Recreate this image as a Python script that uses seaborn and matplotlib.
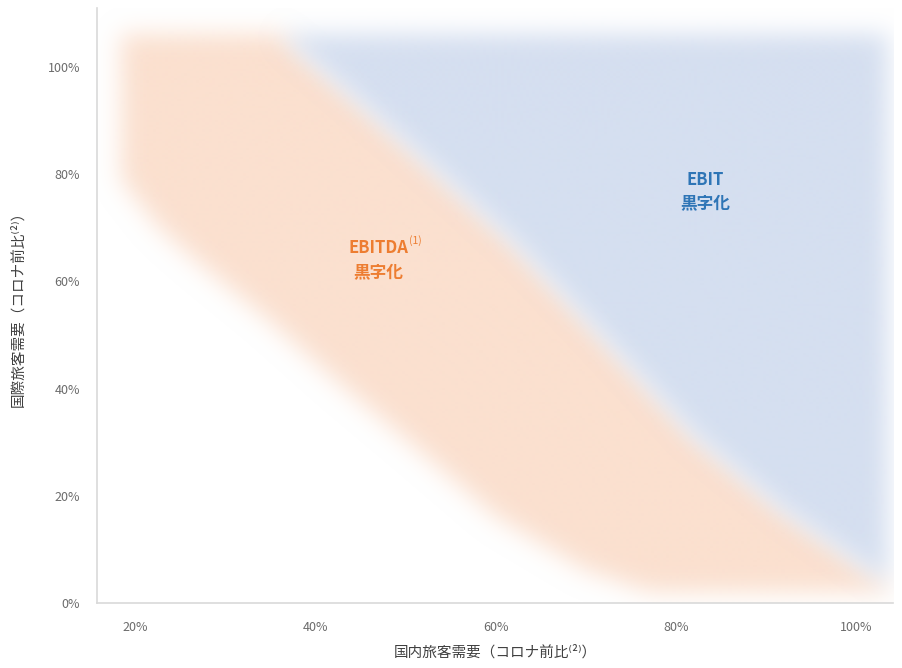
import numpy as np
import matplotlib
matplotlib.use("Agg")
import matplotlib.pyplot as plt
import seaborn as sns
from matplotlib.path import Path
from matplotlib.colors import to_rgb

# =========================== DATA ===========================
# lower-left edge of the EBITDA-positive band (domestic %, international %)
ebitda_edge_x = [18.3, 18.3, 22.5, 26.5, 34.5, 42.5, 51.0, 60.0, 70.0, 77.0]
ebitda_edge_y = [106.0, 79.0, 70.0, 64.0, 53.0, 41.0, 29.0, 16.0, 6.0, 2.0]

# edge between EBITDA band and EBIT-positive region
ebit_edge_x = [36.0, 45.0, 53.0, 62.0, 71.5, 82.0, 92.0, 103.5]
ebit_edge_y = [106.0, 93.0, 81.0, 67.0, 50.0, 31.0, 17.0, 3.5]

region_top = 106.0
region_right = 103.5
region_bottom = 2.0

x_ticks = [20, 40, 60, 80, 100]
y_ticks = [0, 20, 40, 60, 80, 100]
x_label = "国内旅客需要（コロナ前比⁽²⁾）"
y_label = "国際旅客需要（コロナ前比⁽²⁾）"

ebitda_label = ("EBITDA", "(1)", "黒字化")
ebit_label = ("EBIT", "黒字化")

# =========================== STYLE ===========================
sns.set_theme(style="white")
plt.rcParams['font.family'] = ['Noto Sans CJK JP', 'DejaVu Sans']

ORANGE_FILL = "#FBE0CF"
BLUE_FILL = "#D5DFF0"
ORANGE_TEXT = "#ED7D31"
BLUE_TEXT = "#2E75B6"
TICK_COLOR = "#6B6B6B"
SPINE_COLOR = "#D9D9D9"

XLIM = (15.7, 104.1)
YLIM = (0, 111)

fig = plt.figure(figsize=(9.03, 6.68), dpi=100)
ax = fig.add_axes([0.107, 0.097, 0.882, 0.891])
ax.set_xlim(*XLIM)
ax.set_ylim(*YLIM)

# =========================== SOFT REGIONS ===========================
ebitda_poly = ([(ebitda_edge_x[0], region_top)]
               + list(zip(ebit_edge_x, ebit_edge_y))
               + [(region_right, region_bottom)]
               + list(zip(ebitda_edge_x[::-1], ebitda_edge_y[::-1])))
ebit_poly = ([(ebit_edge_x[0], region_top), (region_right, region_top)]
             + list(zip(ebit_edge_x[::-1], ebit_edge_y[::-1])))

nx, ny = 796, 595
gx = np.linspace(XLIM[0], XLIM[1], nx)
gy = np.linspace(YLIM[0], YLIM[1], ny)
GX, GY = np.meshgrid(gx, gy)
pts = np.column_stack([GX.ravel(), GY.ravel()])


def blur(a, sigma):
    r = int(3 * sigma)
    k = np.exp(-0.5 * (np.arange(-r, r + 1) / sigma) ** 2)
    k /= k.sum()
    a = np.apply_along_axis(lambda v: np.convolve(v, k, mode='same'), 0, a)
    a = np.apply_along_axis(lambda v: np.convolve(v, k, mode='same'), 1, a)
    return a


def soft_layer(poly, color, sigma=12):
    mask = Path(poly).contains_points(pts).reshape(ny, nx).astype(float)
    alpha = np.clip(blur(mask, sigma), 0, 1)
    rgba = np.zeros((ny, nx, 4))
    rgba[..., :3] = to_rgb(color)
    rgba[..., 3] = alpha
    ax.imshow(rgba, extent=(XLIM[0], XLIM[1], YLIM[0], YLIM[1]), origin='lower',
              aspect='auto', interpolation='bilinear', zorder=0)


soft_layer(ebitda_poly, ORANGE_FILL)
soft_layer(ebit_poly, BLUE_FILL)

# =========================== LABELS ===========================
t = ax.text(47.0, 66.2, ebitda_label[0], color=ORANGE_TEXT, fontsize=12,
            fontweight='bold', ha='center', va='center')
ax.annotate(ebitda_label[1], xy=(1.0, 0.65), xycoords=t, xytext=(0.5, 0),
            textcoords='offset points', fontsize=7.5, color=ORANGE_TEXT,
            ha='left', va='bottom')
ax.text(47.0, 61.8, ebitda_label[2], color=ORANGE_TEXT, fontsize=12,
        fontweight='bold', ha='center', va='center')

ax.text(83.3, 78.9, ebit_label[0], color=BLUE_TEXT, fontsize=12,
        fontweight='bold', ha='center', va='center')
ax.text(83.3, 74.6, ebit_label[1], color=BLUE_TEXT, fontsize=12,
        fontweight='bold', ha='center', va='center')

# =========================== AXES ===========================
ax.set_xticks(x_ticks)
ax.set_xticklabels([f"{v}%" for v in x_ticks])
ax.set_yticks(y_ticks)
ax.set_yticklabels([f"{v}%" for v in y_ticks])
ax.tick_params(axis='both', length=0, labelsize=9, labelcolor=TICK_COLOR)
ax.tick_params(axis='x', pad=13)
ax.tick_params(axis='y', pad=12)
ax.grid(False)

sns.despine(ax=ax)
for side in ['left', 'bottom']:
    ax.spines[side].set_color(SPINE_COLOR)
    ax.spines[side].set_linewidth(1.2)

ax.set_xlabel(x_label, fontsize=10.5, color="#404040", labelpad=8)
ax.set_ylabel(y_label, fontsize=10.5, color="#404040", labelpad=16)

fig.savefig("out.png", dpi=100)
